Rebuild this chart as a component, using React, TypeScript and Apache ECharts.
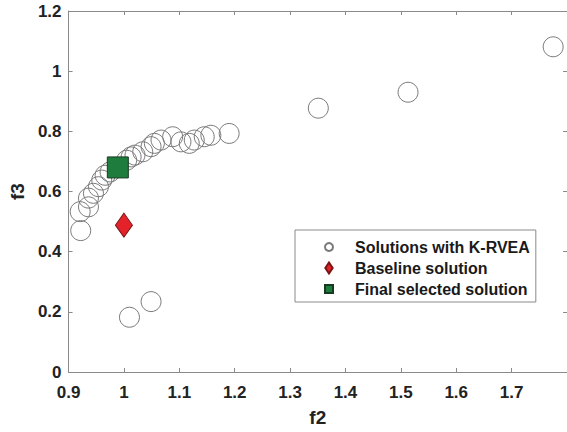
import React, { useEffect, useRef } from "react";
import * as echarts from "echarts";

const solutionsF2 = [
  0.922, 0.921, 0.936, 0.936, 0.945, 0.954, 0.96, 0.966, 0.975, 1.005, 1.02,
  1.013, 1.034, 1.049, 1.055, 1.067, 1.088, 1.103, 1.118, 1.127, 1.145, 1.157,
  1.19, 1.351, 1.513, 1.775, 1.01, 1.049,
];
const solutionsF3 = [
  0.47, 0.533, 0.549, 0.578, 0.594, 0.616, 0.638, 0.654, 0.665, 0.704, 0.721,
  0.715, 0.732, 0.749, 0.76, 0.771, 0.782, 0.765, 0.76, 0.771, 0.782, 0.787,
  0.793, 0.877, 0.93, 1.081, 0.182, 0.234,
];
const baselineF2 = [1.0];
const baselineF3 = [0.488];
const selectedF2 = [0.989];
const selectedF3 = [0.68];

const xTicks = [0.9, 1, 1.1, 1.2, 1.3, 1.4, 1.5, 1.6, 1.7, 1.8];
const yTicks = [0, 0.2, 0.4, 0.6, 0.8, 1, 1.2];

const seriesNames = [
  "Solutions with K-RVEA",
  "Baseline solution",
  "Final selected solution",
];

const FONT = "'Liberation Sans', Arial, sans-serif";
const AXIS_GRAY = "#8a8a8a";
const TEXT = "#222222";

export default function App() {
  const ref = useRef<HTMLDivElement>(null);

  useEffect(() => {
    if (!ref.current) return;
    const chart = echarts.init(ref.current, undefined, { renderer: "svg" });
    const zip = (a: number[], b: number[]) => a.map((v, i) => [v, b[i]]);

    const xBase = {
      type: "value" as const,
      min: xTicks[0],
      max: xTicks[xTicks.length - 1],
      interval: 0.1,
      splitLine: { show: false },
      axisLine: { show: true, onZero: false, lineStyle: { color: AXIS_GRAY, width: 1 } },
      axisTick: { show: true, inside: true, length: 4, lineStyle: { color: AXIS_GRAY } },
    };
    const yBase = {
      type: "value" as const,
      min: yTicks[0],
      max: yTicks[yTicks.length - 1],
      interval: 0.2,
      splitLine: { show: false },
      axisLine: { show: true, onZero: false, lineStyle: { color: AXIS_GRAY, width: 1 } },
      axisTick: { show: true, inside: true, length: 4, lineStyle: { color: AXIS_GRAY } },
    };

    chart.setOption({
      animation: false,
      backgroundColor: "#ffffff",
      grid: { left: 67, right: -1, top: 11, bottom: 60, containLabel: false },
      xAxis: [
        {
          ...xBase,
          position: "bottom",
          name: "f2",
          nameLocation: "middle",
          nameGap: 36,
          nameTextStyle: { fontFamily: FONT, fontWeight: "bold", fontSize: 19, color: TEXT },
          axisLabel: {
            fontFamily: FONT,
            fontWeight: "bold",
            fontSize: 17,
            color: TEXT,
            margin: 12,
            showMaxLabel: false,
            formatter: (v: number) => String(Math.round(v * 10) / 10),
          },
        },
        { ...xBase, position: "top", axisLabel: { show: false } },
      ],
      yAxis: [
        {
          ...yBase,
          position: "left",
          name: "f3",
          nameLocation: "middle",
          nameGap: 38,
          nameRotate: 90,
          nameTextStyle: { fontFamily: FONT, fontWeight: "bold", fontSize: 19, color: TEXT },
          axisLabel: {
            fontFamily: FONT,
            fontWeight: "bold",
            fontSize: 17,
            color: TEXT,
            margin: 7,
            formatter: (v: number) => String(Math.round(v * 10) / 10),
          },
        },
        { ...yBase, position: "right", axisLabel: { show: false } },
      ],
      legend: {
        orient: "vertical",
        left: 295,
        top: 230,
        width: 238,
        padding: [9, 6, 5, 29],
        itemWidth: 8,
        itemHeight: 11,
        itemGap: 5,
        borderColor: "#8a8a8a",
        borderWidth: 1,
        backgroundColor: "#ffffff",
        selectedMode: false,
        textStyle: {
          fontFamily: FONT,
          fontWeight: "bold",
          fontSize: 16,
          lineHeight: 16,
          color: "#1a1a1a",
          padding: [0, 0, 0, 17],
        },
        data: [
          { name: seriesNames[0], icon: "circle" },
          { name: seriesNames[1], icon: "path://M4,0L8,6L4,12L0,6Z" },
          { name: seriesNames[2], icon: "path://M0,0L1,0L1,1L0,1Z" },
        ],
      },
      series: [
        {
          name: seriesNames[0],
          type: "scatter",
          symbol: "circle",
          symbolSize: 20,
          data: zip(solutionsF2, solutionsF3),
          itemStyle: {
            color: "transparent",
            borderColor: "#7a7a7a",
            borderWidth: 1,
            opacity: 1,
          },
          z: 2,
        },
        {
          name: seriesNames[1],
          type: "scatter",
          symbol: "diamond",
          symbolSize: [17, 24],
          data: zip(baselineF2, baselineF3),
          itemStyle: { color: "#e3222a", borderColor: "#7a1414", borderWidth: 1, opacity: 1 },
          z: 3,
        },
        {
          name: seriesNames[2],
          type: "scatter",
          symbol: "rect",
          symbolSize: 21,
          data: zip(selectedF2, selectedF3),
          itemStyle: { color: "#1e7d3c", borderColor: "#173a22", borderWidth: 1, opacity: 1 },
          z: 4,
        },
      ],
    });
    return () => chart.dispose();
  }, []);

  return (
    <div
      ref={ref}
      style={{ position: "fixed", left: 0, top: 0, width: 567, height: 432, background: "#fff" }}
    />
  );
}
